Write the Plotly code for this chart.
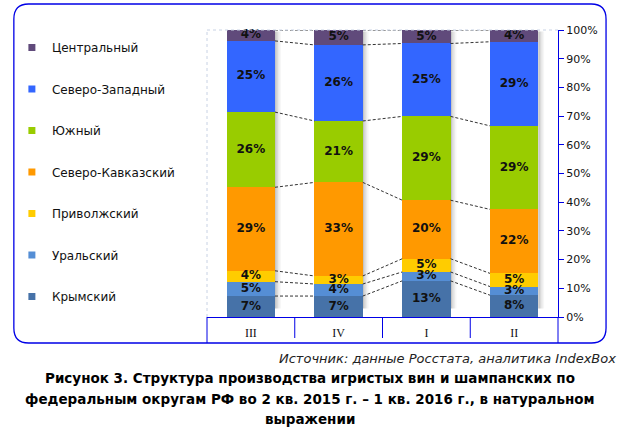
import plotly.graph_objects as go

# ---------------- data ----------------
quarters = ["III", "IV", "I", "II"]
regions = ["Крымский", "Уральский", "Приволжский", "Северо-Кавказский",
           "Южный", "Северо-Западный", "Центральный"]
krym = [7.3, 7.3, 12.6, 7.6]
ural = [5.0, 4.2, 3.1, 3.0]
privolzh = [3.8, 2.8, 4.6, 4.6]
sev_kavkaz = [29.1, 32.6, 20.4, 22.3]
yuzh = [26.2, 21.4, 29.2, 29.1]
sev_zapad = [24.8, 26.5, 25.4, 29.3]
central = [3.8, 5.2, 4.7, 4.1]
series = [krym, ural, privolzh, sev_kavkaz, yuzh, sev_zapad, central]
colors = ["#4672A8", "#558ED5", "#FFCC00", "#FF9900", "#99CC00", "#3366FF", "#604A7B"]

y_ticks = list(range(0, 101, 10))
source_text = "Источник: данные Росстата, аналитика IndexBox"
caption_lines = [
    "Рисунок 3. Структура производства игристых вин и шампанских по",
    "федеральным округам РФ во 2 кв. 2015 г. – 1 кв. 2016 г., в натуральном",
    "выражении",
]

# ---------------- geometry (layout) ----------------
W, H = 622, 429
L, R, T, B = 200, 558, 30, 317
BAR_W = 0.55
BLUE = "#0000E6"
xs = list(range(len(quarters)))


def px(x):
    return (x - L) / (R - L)


def py(y):
    return (B - y) / (B - T)


fig = go.Figure()

# bars
for name, vals, col in zip(regions, series, colors):
    fig.add_trace(go.Bar(x=xs, y=vals, name=name, marker=dict(color=col, line=dict(width=0)),
                         width=BAR_W, showlegend=False, hoverinfo="skip"))

# cumulative levels
cums = []
run = [0.0] * len(xs)
for vals in series:
    run = [a + b for a, b in zip(run, vals)]
    cums.append(list(run))

# dashed connector lines
lx, ly = [], []
for lev in cums:
    for i in range(len(xs) - 1):
        lx += [xs[i] + BAR_W / 2, xs[i + 1] - BAR_W / 2, None]
        ly += [lev[i], lev[i + 1], None]
fig.add_trace(go.Scatter(x=lx, y=ly, mode="lines", showlegend=False, hoverinfo="skip",
                         line=dict(color="#333333", width=1, dash="3px,2px")))

# value labels at segment centres
tx, ty, tt = [], [], []
prev = [0.0] * len(xs)
for vals, lev in zip(series, cums):
    for i in xs:
        tx.append(i)
        ty.append((prev[i] + lev[i]) / 2)
        tt.append(f"<b>{round(vals[i]):d}%</b>")
    prev = lev
fig.add_trace(go.Scatter(x=tx, y=ty, mode="text", text=tt, showlegend=False, hoverinfo="skip",
                         textfont=dict(family="DejaVu Sans", size=12, color="#111111"),
                         textposition="middle center", cliponaxis=False))

# legend proxies (top to bottom: Центральный ... Крымский)
for name, col in reversed(list(zip(regions, colors))):
    fig.add_trace(go.Scatter(x=[None], y=[None], mode="markers", name=name, legendgroup=name,
                             marker=dict(symbol="square", size=7, color=col)))

shapes = []
# bar shadows
step = (len(xs)) / (R - L)  # data units per pixel
for i in xs:
    for k, op in enumerate([0.35, 0.22, 0.12, 0.05]):
        x0 = i + BAR_W / 2 + k * 1.5 * step
        shapes.append(dict(type="rect", xref="x", yref="y", x0=x0, x1=x0 + 1.5 * step,
                           y0=3, y1=99.5, fillcolor="#555555", opacity=op, line=dict(width=0),
                           layer="below"))

# light dotted plot border (top & left)
shapes.append(dict(type="line", xref="paper", yref="paper", x0=0, x1=1, y0=1, y1=1,
                   line=dict(color="#C8D2E4", width=1, dash="dot")))
shapes.append(dict(type="line", xref="paper", yref="paper", x0=0, x1=0, y0=0, y1=1,
                   line=dict(color="#C8D2E4", width=1, dash="dot")))

# category table lines
for i in range(len(xs) - 1):
    shapes.append(dict(type="line", xref="x", yref="paper", x0=i + 0.5, x1=i + 0.5,
                       y0=0, y1=py(338), line=dict(color=BLUE, width=1)))
shapes.append(dict(type="line", xref="paper", yref="paper", x0=0, x1=0, y0=0, y1=py(343),
                   line=dict(color=BLUE, width=1)))
shapes.append(dict(type="line", xref="paper", yref="paper", x0=1, x1=1, y0=0, y1=py(343),
                   line=dict(color=BLUE, width=1)))

# rounded frame
fl, fr, ft, fb, rr = 3, 607, 4, 343, 15
path = (f"M {px(fl + rr)},{py(ft)} L {px(fr - rr)},{py(ft)} "
        f"Q {px(fr)},{py(ft)} {px(fr)},{py(ft + rr)} "
        f"L {px(fr)},{py(fb - rr)} Q {px(fr)},{py(fb)} {px(fr - rr)},{py(fb)} "
        f"L {px(fl + rr)},{py(fb)} Q {px(fl)},{py(fb)} {px(fl)},{py(fb - rr)} "
        f"L {px(fl)},{py(ft + rr)} Q {px(fl)},{py(ft)} {px(fl + rr)},{py(ft)} Z")
shapes.append(dict(type="path", xref="paper", yref="paper", path=path,
                   line=dict(color=BLUE, width=1.3)))

annotations = [
    dict(xref="paper", yref="paper", x=px(619), y=py(358), xanchor="right", yanchor="middle",
         text=f"<i>{source_text}</i>", showarrow=False,
         font=dict(family="DejaVu Sans", size=13, color="#222222")),
]
for j, line in enumerate(caption_lines):
    annotations.append(dict(xref="paper", yref="paper", x=px(305), y=py(378 + 20.5 * j),
                            xanchor="center", yanchor="middle", text=f"<b>{line}</b>",
                            showarrow=False,
                            font=dict(family="DejaVu Sans", size=13.5, color="#000000")))

fig.update_layout(
    width=W, height=H,
    margin=dict(l=L, r=W - R, t=T, b=H - B, pad=0),
    paper_bgcolor="white", plot_bgcolor="white",
    barmode="stack", bargap=0.45,
    showlegend=True,
    legend=dict(x=px(1), y=py(33), xanchor="left", yanchor="top",
                tracegroupgap=22.5, font=dict(family="DejaVu Sans", size=12, color="#111111"),
                bgcolor="rgba(0,0,0,0)", itemclick=False),
    xaxis=dict(range=[-0.5, len(xs) - 0.5], tickvals=xs, ticktext=quarters,
               showgrid=False, zeroline=False, showline=True, linecolor=BLUE, linewidth=1,
               ticks="outside", ticklen=5, tickcolor="rgba(0,0,0,0)",
               tickfont=dict(family="Liberation Serif", size=12, color="#111111")),
    yaxis=dict(range=[0, 100], side="right", tickvals=y_ticks,
               ticktext=[f"{v}%" for v in y_ticks], showgrid=False, zeroline=False,
               showline=True, linecolor=BLUE, linewidth=1, ticks="outside", ticklen=5,
               tickcolor=BLUE, tickfont=dict(family="DejaVu Sans", size=11, color="#111111")),
    shapes=shapes,
    annotations=annotations,
)

fig.write_html("out.html", config={"displayModeBar": False},
               post_script="document.body.style.margin='0';")
